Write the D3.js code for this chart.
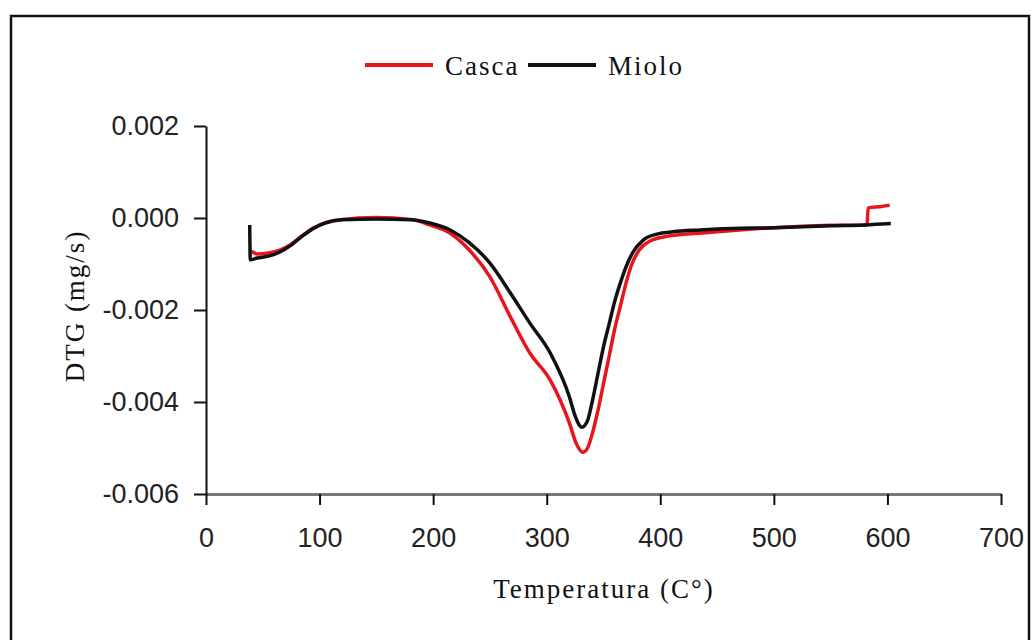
<!DOCTYPE html>
<html>
<head>
<meta charset="utf-8">
<script src="https://cdn.jsdelivr.net/npm/d3@7"></script>
<style>
  body { margin: 0; background: #fff; }
  .tick text { font-family: "Liberation Sans", Arial, sans-serif; font-size: 27px; fill: #222; }
  .title { font-family: "Liberation Serif", "Times New Roman", serif; font-size: 27px; fill: #111; letter-spacing: 2px; }
</style>
</head>
<body>
<script>
// temperatures (C) and DTG (mg/s)
var cascaT = [40, 45, 55, 65, 75, 85, 95, 105, 120, 150, 180, 197, 215, 232, 250, 268, 285, 303, 320, 326, 332, 336, 340, 345, 350, 355, 360, 365, 370, 375, 382, 391, 406, 435, 450, 500, 550, 582, 583, 595, 602];
var cascaV = [-0.00072, -0.00078, -0.00076, -0.00070, -0.00057, -0.00038, -0.00021, -0.00010, -0.00003, 0.00001, -0.00003, -0.00015, -0.00033, -0.00070, -0.00128, -0.00215, -0.00293, -0.00352, -0.00446, -0.00490, -0.00509, -0.00500, -0.00470, -0.00420, -0.00360, -0.00300, -0.00240, -0.00190, -0.00140, -0.00100, -0.00068, -0.00050, -0.00040, -0.00033, -0.00030, -0.00021, -0.00016, -0.00015, 0.00022, 0.00025, 0.00028];

var mioloT = [38.5, 39, 45, 55, 65, 75, 85, 95, 105, 120, 150, 180, 197, 215, 232, 250, 268, 285, 303, 320, 325, 331, 336, 340, 345, 350, 355, 360, 365, 370, 376, 385, 397, 411, 435, 450, 500, 550, 580, 603];
var mioloV = [-0.00015, -0.00091, -0.00087, -0.00083, -0.00074, -0.00059, -0.00039, -0.00022, -0.00011, -0.00004, -0.00002, -0.00004, -0.00011, -0.00026, -0.00054, -0.00098, -0.00163, -0.00228, -0.00293, -0.00389, -0.00430, -0.00455, -0.00440, -0.00400, -0.00340, -0.00280, -0.00230, -0.00180, -0.00140, -0.00105, -0.00074, -0.00048, -0.00035, -0.00030, -0.00026, -0.00024, -0.00021, -0.00017, -0.00015, -0.00012];

var xTicks = [0, 100, 200, 300, 400, 500, 600, 700];
var yTicks = [0.002, 0, -0.002, -0.004, -0.006];
var seriesNames = ["Casca", "Miolo"];
var seriesColors = ["#e8151d", "#111111"];

var width = 1031, height = 640;

var svg = d3.select("body").append("svg")
    .attr("width", width)
    .attr("height", height);

// frame round the figure
svg.append("rect")
    .attr("x", 11).attr("y", 16)
    .attr("width", 1018).attr("height", 700)
    .attr("fill", "none")
    .attr("stroke", "#111")
    .attr("stroke-width", 2.5);

// set the ranges
var x = d3.scaleLinear().domain([0, 700]).range([206, 1001]);
var y = d3.scaleLinear().domain([-0.006, 0.002]).range([494, 126]);

// x axis
var gx = svg.append("g")
    .attr("transform", "translate(0," + y(-0.006) + ")")
    .call(d3.axisBottom(x).tickValues(xTicks).tickSizeInner(11).tickSizeOuter(0).tickPadding(23)
        .tickFormat(d3.format("d")));
gx.select(".domain").attr("stroke", "#777").attr("stroke-width", 3);
gx.selectAll(".tick line").attr("stroke", "#111").attr("stroke-width", 2);

// y axis
var gy = svg.append("g")
    .attr("transform", "translate(" + x(0) + ",0)")
    .call(d3.axisLeft(y).tickValues(yTicks).tickSizeInner(12).tickSizeOuter(0).tickPadding(15)
        .tickFormat(d3.format(".3f")));
gy.select(".domain").attr("stroke", "#111").attr("stroke-width", 2);
gy.selectAll(".tick line").attr("stroke", "#111").attr("stroke-width", 2);
gy.selectAll(".tick text").text(function (d) { return d3.format(".3f")(d).replace("−", "-"); });

// the two curves
var line = d3.line()
    .x(function (d) { return x(d[0]); })
    .y(function (d) { return y(d[1]); })
    .curve(d3.curveMonotoneX);

var series = [d3.zip(cascaT, cascaV), d3.zip(mioloT, mioloV)];
series.forEach(function (s, i) {
    svg.append("path")
        .datum(s)
        .attr("fill", "none")
        .attr("stroke", seriesColors[i])
        .attr("stroke-width", 3.5)
        .attr("stroke-linejoin", "round")
        .attr("d", line);
});

// legend
var legX = [365, 528];
seriesNames.forEach(function (name, i) {
    svg.append("line")
        .attr("x1", legX[i]).attr("x2", legX[i] + 68)
        .attr("y1", 65).attr("y2", 65)
        .attr("stroke", seriesColors[i])
        .attr("stroke-width", 4);
    svg.append("text")
        .attr("class", "title")
        .attr("x", legX[i] + 80).attr("y", 75)
        .text(name);
});

// axis titles
svg.append("text")
    .attr("class", "title")
    .attr("text-anchor", "middle")
    .attr("transform", "translate(84,306) rotate(-90)")
    .text("DTG (mg/s)");

svg.append("text")
    .attr("class", "title")
    .attr("text-anchor", "middle")
    .attr("x", 604).attr("y", 598)
    .text("Temperatura (C°)");
</script>
</body>
</html>
